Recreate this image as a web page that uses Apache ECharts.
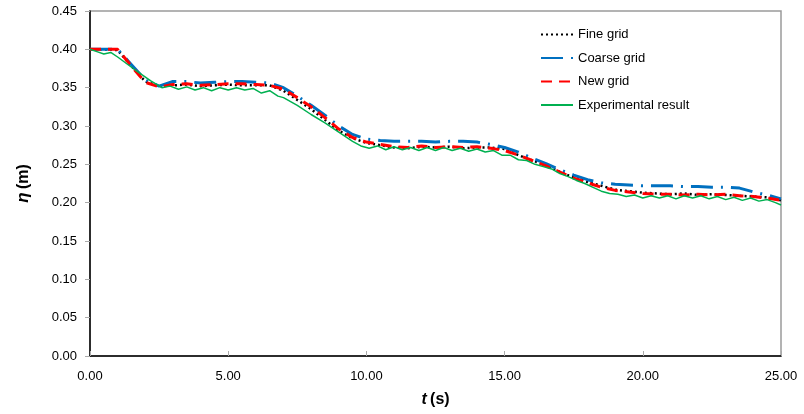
<!DOCTYPE html>
<html><head><meta charset="utf-8">
<script src="https://cdn.jsdelivr.net/npm/echarts@6/dist/echarts.min.js"></script>
<style>html,body{margin:0;padding:0;background:#fff}#c{width:804px;height:414px}</style>
</head><body><div id="c"></div>
<script>
const seriesNames = ['Fine grid', 'Coarse grid', 'New grid', 'Experimental result'];
const xTicks = ['0.00', '5.00', '10.00', '15.00', '20.00', '25.00'];
const simTime = [0,0.5,1,1.5,2,2.5,3,3.5,4,4.5,5,5.5,6,6.5,7,7.5,8,8.5,9,9.5,10,10.5,11,11.5,12,12.5,13,13.5,14,14.5,15,15.5,16,16.5,17,17.5,18,18.5,19,19.5,20,20.5,21,21.5,22,22.5,23,23.5,24,24.5,25];
const fineGrid = [0.400,0.400,0.399,0.378,0.358,0.352,0.353,0.354,0.352,0.353,0.354,0.353,0.353,0.353,0.346,0.334,0.322,0.308,0.294,0.284,0.278,0.275,0.272,0.271,0.273,0.272,0.273,0.271,0.272,0.272,0.270,0.262,0.255,0.249,0.240,0.233,0.227,0.222,0.217,0.215,0.213,0.212,0.211,0.212,0.210,0.211,0.210,0.209,0.208,0.207,0.203];
const coarseGrid = [0.400,0.400,0.400,0.380,0.360,0.352,0.358,0.358,0.356,0.357,0.358,0.358,0.357,0.356,0.350,0.339,0.327,0.314,0.300,0.289,0.283,0.281,0.280,0.280,0.280,0.279,0.280,0.280,0.279,0.276,0.272,0.266,0.258,0.251,0.243,0.236,0.230,0.226,0.224,0.223,0.222,0.222,0.222,0.221,0.221,0.220,0.220,0.219,0.214,0.210,0.205];
const newGrid = [0.400,0.400,0.400,0.378,0.357,0.351,0.354,0.355,0.353,0.354,0.355,0.355,0.354,0.353,0.348,0.337,0.325,0.311,0.296,0.285,0.279,0.276,0.273,0.272,0.274,0.272,0.273,0.272,0.273,0.271,0.268,0.262,0.255,0.248,0.240,0.232,0.226,0.220,0.216,0.214,0.212,0.211,0.211,0.210,0.211,0.210,0.211,0.209,0.208,0.206,0.203];
const expTime = [0,0.25,0.5,0.75,1.0,1.6,2.2,2.6,2.9,3.2,3.5,3.8,4.1,4.4,4.7,5.0,5.3,5.6,5.9,6.2,6.5,6.8,7.0,7.5,8.0,8.5,9.0,9.5,9.8,10.1,10.4,10.7,11.0,11.3,11.6,11.9,12.2,12.5,12.8,13.1,13.4,13.7,14.0,14.3,14.6,14.9,15.2,15.5,15.8,16.1,16.4,16.7,17.0,17.3,17.6,17.9,18.2,18.5,18.8,19.1,19.4,19.7,20.0,20.3,20.6,20.9,21.2,21.5,21.8,22.1,22.4,22.7,23.0,23.3,23.6,23.9,24.2,24.5,24.8,25.0];
const experimental = [0.400,0.397,0.394,0.396,0.390,0.374,0.359,0.350,0.352,0.348,0.351,0.347,0.350,0.346,0.350,0.347,0.350,0.347,0.349,0.343,0.346,0.339,0.337,0.327,0.315,0.304,0.292,0.280,0.274,0.271,0.274,0.269,0.273,0.269,0.272,0.268,0.272,0.268,0.272,0.268,0.271,0.267,0.270,0.266,0.268,0.262,0.262,0.256,0.255,0.250,0.247,0.244,0.238,0.234,0.229,0.225,0.220,0.215,0.212,0.211,0.208,0.210,0.206,0.209,0.206,0.209,0.205,0.209,0.206,0.209,0.205,0.208,0.204,0.207,0.203,0.206,0.202,0.204,0.200,0.197];

const zip = (a, b) => a.map((v, i) => [v, b[i]]);
const font = '"Liberation Sans", Arial, sans-serif';
const chart = echarts.init(document.getElementById('c'), null, {renderer: 'canvas'});
chart.setOption({
  animation: false,
  backgroundColor: '#fff',
  grid: {left: 90, right: 23, top: 11, bottom: 58, show: true, borderColor: '#9a9a9a', borderWidth: 1.5},
  legend: {
    orient: 'vertical', left: 535, top: 23, itemWidth: 32, itemHeight: 14, itemGap: 10.5,
    data: seriesNames,
    itemStyle: {opacity: 0},
    textStyle: {fontFamily: font, fontSize: 13, color: '#000'}
  },
  xAxis: {
    type: 'value', min: 0, max: 25, interval: 5,
    axisLine: {lineStyle: {color: '#000', width: 1.5}},
    axisTick: {inside: true, length: 5, lineStyle: {color: '#aaa'}},
    axisLabel: {fontFamily: font, fontSize: 13, color: '#000', margin: 14,
      formatter: v => xTicks[Math.round(v / 5)]},
    splitLine: {show: false},
    name: '{i|t} {b|(s)}', nameLocation: 'middle', nameGap: 36,
    nameTextStyle: {rich: {
      i: {fontFamily: font, fontSize: 16, fontWeight: 'bold', fontStyle: 'italic', color: '#000'},
      b: {fontFamily: font, fontSize: 16, fontWeight: 'bold', color: '#000'}
    }}
  },
  yAxis: {
    type: 'value', min: 0, max: 0.45, interval: 0.05,
    axisLine: {show: true, lineStyle: {color: '#000', width: 1.5}},
    axisTick: {show: true, length: 5, lineStyle: {color: '#aaa'}},
    axisLabel: {fontFamily: font, fontSize: 13, color: '#000', margin: 13, formatter: v => v.toFixed(2)},
    splitLine: {show: false},
    name: '{i|η} {b|(m)}', nameLocation: 'middle', nameGap: 58, nameRotate: 90,
    nameTextStyle: {rich: {
      i: {fontFamily: font, fontSize: 17, fontWeight: 'bold', fontStyle: 'italic', color: '#000'},
      b: {fontFamily: font, fontSize: 16, fontWeight: 'bold', color: '#000'}
    }}
  },
  series: [
    {name: seriesNames[0], type: 'line', symbol: 'none', data: zip(simTime, fineGrid),
      lineStyle: {color: '#000', width: 2.5, type: [2, 3]}, itemStyle: {color: '#000'}},
    {name: seriesNames[1], type: 'line', symbol: 'none', data: zip(simTime, coarseGrid),
      lineStyle: {color: '#0070C0', width: 3, type: [22, 8, 2, 8]}, itemStyle: {color: '#0070C0'}},
    {name: seriesNames[2], type: 'line', symbol: 'none', data: zip(simTime, newGrid),
      lineStyle: {color: '#FF0000', width: 3, type: [11, 7]}, itemStyle: {color: '#FF0000'}},
    {name: seriesNames[3], type: 'line', symbol: 'none', data: zip(expTime, experimental),
      lineStyle: {color: '#00B050', width: 1.5}, itemStyle: {color: '#00B050'}}
  ]
});
</script></body></html>
